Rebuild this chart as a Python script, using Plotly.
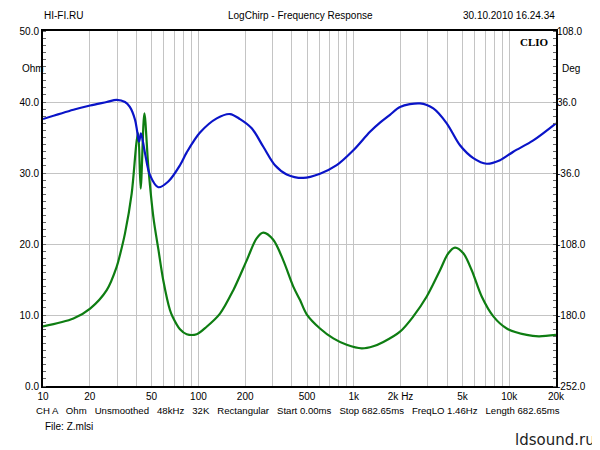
import plotly.graph_objects as go
import math

# ---- data ----
freq_green = [10, 15.7, 20.1, 25.7, 29.8, 31.3, 33.7, 37.2, 40.1, 41.0, 42.5, 44.9, 47.6, 51.3, 55.3,
              59.4, 65.6, 68.1, 76.1, 84.1, 97.5, 113, 137.7, 167.7, 204.6, 237, 261.6, 303, 351.6,
              408, 450.8, 497.5, 606, 738, 900, 1124, 1335, 1549, 1983, 2415, 2946, 3587, 4055,
              4480, 5066, 5738, 6653, 7902, 9638, 12960, 15500, 20000]
ohm_green = [8.4, 9.5, 10.9, 13.5, 16.8, 18.5, 21.5, 27.1, 34.6, 35.6, 27.8, 38.4, 30.9, 23.8, 19.2,
             14.9, 10.7, 9.8, 8.0, 7.3, 7.3, 8.35, 10.2, 13.5, 17.7, 20.8, 21.6, 20.6, 17.7,
             14.0, 12.1, 10.1, 8.1, 6.7, 5.8, 5.3, 5.6, 6.2, 7.65, 9.8, 12.6, 16.3, 18.7,
             19.5, 18.7, 16.3, 12.6, 9.8, 8.1, 7.2, 7.0, 7.2]

freq_blue = [10, 15.7, 20.1, 25.7, 29.8, 33.7, 36.2, 39.1, 40.4, 41.5, 42.7, 45.3, 48.8, 55.2, 64, 76.1, 84.1,
             102.4, 131.2, 159.7, 185.3, 220.3, 261.6, 311, 370, 473, 606, 776, 993, 1271, 1474,
             1709, 1983, 2667, 3248, 3961, 4823, 5875, 7161, 8730, 10626, 14290, 20000]
deg_blue = [18.7, 28.1, 32.4, 36.0, 38.2, 36.0, 31.0, 18.0, 5.8, -4.3, 4.3, -15.8, -38.2, -50.4, -44.6, -28.1, -15.1,
            5.0, 19.4, 23.8, 18.7, 9.4, -9.4, -28.1, -37.4, -41.0, -36.7, -28.1, -13.0, 5.8, 15.1,
            23.0, 31.0, 34.6, 29.5, 14.4, -7.9, -20.9, -26.6, -23.0, -14.4, -2.9, 14.4]

x_label_vals = [10, 20, 50, 100, 200, 500, 1000, 2000, 5000, 10000, 20000]
x_label_text = ["10", "20", "50", "100", "200", "500", "1k", "2k Hz", "5k", "10k", "20k"]
ohm_ticks = [0, 10, 20, 30, 40, 50]
deg_ticks = [-252, -180, -108, -36, 36, 108]

# all log grid positions
grid_vals = []
for dec in [10, 100, 1000, 10000]:
    for m in range(1, 10):
        v = m * dec
        if v <= 20000:
            grid_vals.append(v)
grid_text = [x_label_text[x_label_vals.index(v)] if v in x_label_vals else "" for v in grid_vals]

FONT = "Liberation Sans, Arial, sans-serif"

fig = go.Figure()
fig.add_trace(go.Scatter(x=freq_blue, y=deg_blue, yaxis="y2", mode="lines",
                         line=dict(color="#0A14C8", width=2.2, shape="spline", smoothing=0.9),
                         showlegend=False, hoverinfo="skip"))
fig.add_trace(go.Scatter(x=freq_green, y=ohm_green, mode="lines",
                         line=dict(color="#0E7D12", width=2.2, shape="spline", smoothing=0.9),
                         showlegend=False, hoverinfo="skip"))

# page body has an 8px margin: figure drawn at (8,8) in the window
fig.update_layout(
    width=592, height=442,
    margin=dict(l=35, r=44, t=23, b=64),
    paper_bgcolor="white", plot_bgcolor="white",
    font=dict(family=FONT, size=10, color="black"),
    xaxis=dict(type="log", range=[1, math.log10(20000)], tickvals=grid_vals, ticktext=grid_text,
               showgrid=True, gridcolor="#C4C4C4", gridwidth=1,
               showline=True, linecolor="black", linewidth=2, mirror=True,
               ticks="", zeroline=False, tickfont=dict(size=10)),
    yaxis=dict(range=[0, 50], tickvals=ohm_ticks, ticktext=[f"{v:.1f}" for v in ohm_ticks],
               showgrid=True, gridcolor="#C4C4C4", gridwidth=1,
               showline=True, linecolor="black", linewidth=2, mirror=True,
               ticks="", zeroline=False, tickfont=dict(size=10),
               minor=dict(ticks="inside", dtick=1, ticklen=3, tickcolor="#666666", showgrid=False)),
    yaxis2=dict(range=[-252, 108], overlaying="y", side="right",
                tickvals=deg_ticks, ticktext=[f"{v:.1f}" for v in deg_ticks],
                showgrid=False, zeroline=False, showline=False, ticks="",
                tickfont=dict(size=10),
                minor=dict(ticks="inside", dtick=7.2, tick0=-252, ticklen=3, tickcolor="#666666")),
)

def ann(text, x, y, xanchor="left", size=10, **kw):
    fig.add_annotation(text=text, x=x, y=y, xref="paper", yref="paper", xanchor=xanchor,
                       yanchor="middle", showarrow=False, font=dict(size=size, family=kw.pop("family", FONT),
                       color=kw.pop("color", "black")), **kw)

# screen-pixel helpers (plot area spans x 43..556, y 31..386 in the window)
W, H0, PH = 513.0, 386.0, 355.0
px = lambda x: (x - 43) / W
py = lambda y: (H0 - y) / PH

ann("HI-FI.RU", px(42), py(15))
ann("LogChirp - Frequency Response", px(300), py(15), xanchor="center")
ann("30.10.2010 16.24.34", px(557), py(15), xanchor="right")
ann("Ohm", px(20), py(69))
ann("Deg", px(560), py(69))
ann("<b>CLIO</b>", px(551), py(42), xanchor="right", size=11, family="Liberation Serif, Times New Roman, serif")
ann("CH A   Ohm   Unsmoothed   48kHz   32K   Rectangular   Start 0.00ms   Stop 682.65ms   FreqLO 1.46Hz   Length 682.65ms",
    px(34), py(411), size=9.6)
ann("File: Z.mlsi", px(43), py(426), size=10)
ann("ldsound.ru", px(597), py(440), xanchor="right", size=15, family="DejaVu Sans, sans-serif", color="#222222")

fig.write_html("out.html")
